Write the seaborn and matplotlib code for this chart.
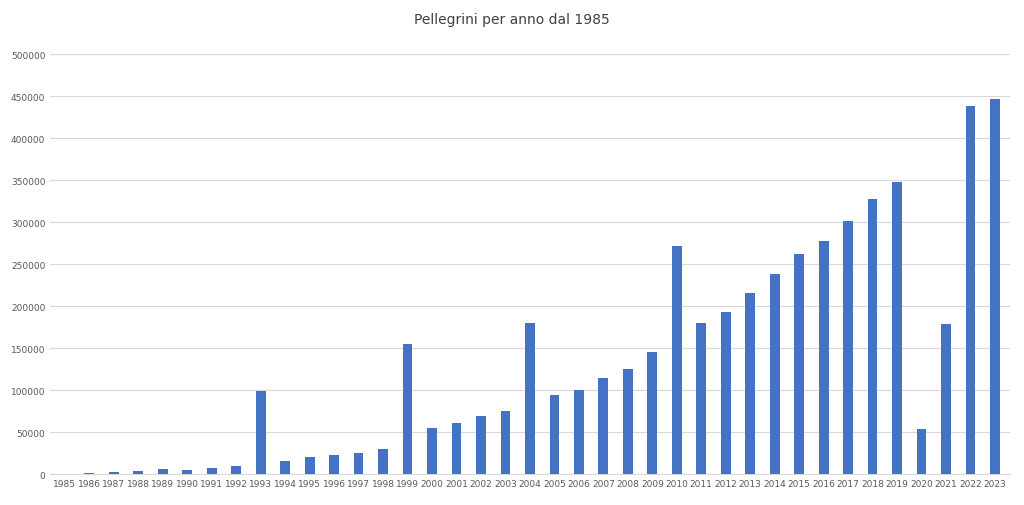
import matplotlib
matplotlib.use("Agg")
import matplotlib.pyplot as plt
import seaborn as sns
import pandas as pd

# Pilgrims per year
years = [str(y) for y in range(1985, 2024)]
pilgrims = [690, 1801, 2905, 3501, 5760, 4918, 7274, 9764, 99436, 15863,
            19821, 23218, 25179, 30126, 154613, 55004, 61418, 68952, 74614, 179944,
            93924, 100377, 114026, 125141, 145877, 272135, 180000, 192488, 215880, 237886,
            262516, 277915, 301036, 327378, 347578, 54144, 178912, 438182, 446035]
yticks = list(range(0, 500001, 50000))

df = pd.DataFrame({"anno": years, "pellegrini": pilgrims})

fig = plt.figure(figsize=(10.24, 5.06), dpi=100)
ax = fig.add_axes([0.049, 0.061, 0.937, 0.830])
sns.barplot(data=df, x="anno", y="pellegrini", color="#4472C4", width=0.4,
            saturation=1, ax=ax, zorder=3)
ax.set_ylim(0, 500000)
ax.set_yticks(yticks)
ax.set_yticklabels([str(t) for t in yticks])
ax.grid(axis="y", color="#d9d9d9", linewidth=0.8, zorder=0)
ax.set_xlabel("")
ax.set_ylabel("")
for s in ["top", "right", "left"]:
    ax.spines[s].set_visible(False)
ax.spines["bottom"].set_color("#d9d9d9")
ax.tick_params(axis="both", length=0, labelsize=6.5, colors="#595959")
ax.set_xlim(-0.6, len(years) - 0.4)
fig.suptitle("Pellegrini per anno dal 1985", y=0.975, fontsize=10, color="#404040")
fig.savefig("out.png", dpi=100)
